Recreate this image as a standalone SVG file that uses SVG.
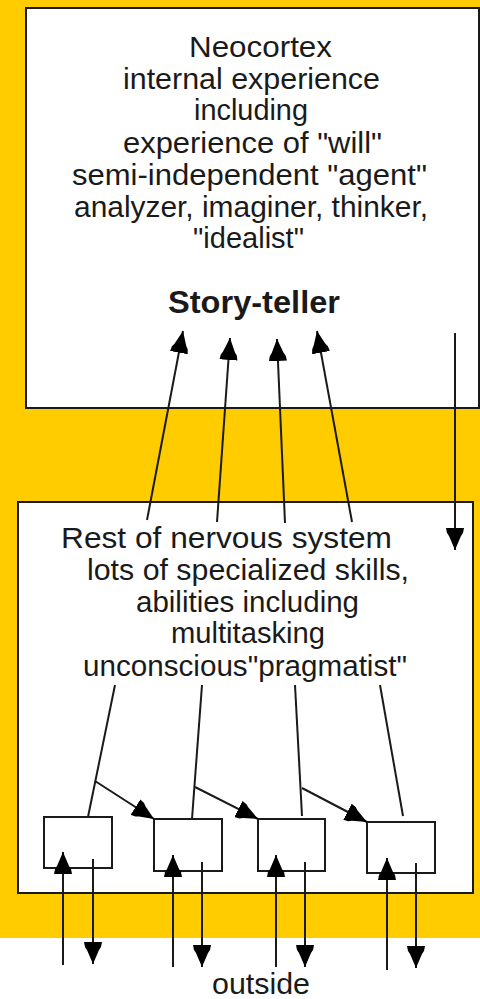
<svg xmlns="http://www.w3.org/2000/svg" width="480" height="999" viewBox="0 0 480 999">
<style>
.box{fill:#ffffff;stroke:#1a1a1a;stroke-width:2}
.sb{fill:#ffffff;stroke:#1a1a1a;stroke-width:2}
.t{font-family:"Liberation Sans",Arial,sans-serif;font-size:30px;fill:#1a1a1a}
.b{font-family:"Liberation Sans",Arial,sans-serif;font-size:31px;font-weight:bold;fill:#1a1a1a}
.ln{stroke:#1a1a1a;stroke-width:2;fill:none}
.ar{stroke:#1a1a1a;stroke-width:2;fill:none;marker-end:url(#ah)}
</style>
<defs>
<marker id="ah" markerUnits="userSpaceOnUse" markerWidth="26" markerHeight="22" viewBox="0 -11 26 22" refX="22" refY="0" orient="auto">
<path d="M0,-9 L5,-8 L8,-6 L22,0 L8,6 L5,8 L0,9 Z" fill="#000000"/>
</marker>
</defs>
<rect x="0" y="0" width="480" height="999" fill="#ffffff"/>
<rect x="0" y="0" width="480" height="938" fill="#ffcc00"/>
<g id="neocortex">
<rect class="box" x="26" y="8" width="453" height="400"/>
<text class="t" x="189" y="57" textLength="143" lengthAdjust="spacingAndGlyphs">Neocortex</text>
<text class="t" x="123" y="89" textLength="257" lengthAdjust="spacingAndGlyphs">internal experience</text>
<text class="t" x="194" y="120" textLength="114" lengthAdjust="spacingAndGlyphs">including</text>
<text class="t" x="123" y="153" textLength="259" lengthAdjust="spacingAndGlyphs">experience of "will"</text>
<text class="t" x="72" y="185" textLength="355" lengthAdjust="spacingAndGlyphs">semi-independent "agent"</text>
<text class="t" x="74" y="217" textLength="354" lengthAdjust="spacingAndGlyphs">analyzer, imaginer, thinker,</text>
<text class="t" x="193" y="248" textLength="111" lengthAdjust="spacingAndGlyphs">"idealist"</text>
<text class="b" x="168" y="313" textLength="172" lengthAdjust="spacingAndGlyphs">Story-teller</text>
</g>
<g id="rest">
<rect class="box" x="18" y="502" width="455" height="391"/>
<text class="t" x="61" y="548" textLength="331" lengthAdjust="spacingAndGlyphs">Rest of nervous system</text>
<text class="t" x="87" y="580" textLength="322" lengthAdjust="spacingAndGlyphs">lots of specialized skills,</text>
<text class="t" x="136" y="612" textLength="223" lengthAdjust="spacingAndGlyphs">abilities including</text>
<text class="t" x="171" y="643" textLength="154" lengthAdjust="spacingAndGlyphs">multitasking</text>
<text class="t" x="83" y="676" textLength="324" lengthAdjust="spacingAndGlyphs">unconscious"pragmatist"</text>
</g>
<g id="skill1"><rect class="sb" x="44" y="817" width="68" height="51"/></g>
<g id="skill2"><rect class="sb" x="154" y="819" width="68" height="52"/></g>
<g id="skill3"><rect class="sb" x="258" y="819" width="67" height="52"/></g>
<g id="skill4"><rect class="sb" x="367" y="822" width="68" height="51"/></g>
<g id="outside">
<text class="t" x="212" y="994" textLength="98" lengthAdjust="spacingAndGlyphs">outside</text>
</g>
<g id="connectors">
<line class="ar" x1="147" y1="520" x2="183" y2="331"/>
<line class="ar" x1="217" y1="522" x2="230" y2="338"/>
<line class="ar" x1="285" y1="523" x2="277" y2="339"/>
<line class="ar" x1="352" y1="522" x2="317" y2="331"/>
<line class="ar" x1="455" y1="333" x2="455" y2="550"/>
<line class="ln" x1="115" y1="685" x2="88" y2="817"/>
<line class="ar" x1="95" y1="781" x2="154" y2="819"/>
<line class="ln" x1="202" y1="685" x2="192" y2="819"/>
<line class="ar" x1="195" y1="787" x2="258" y2="819"/>
<line class="ln" x1="295" y1="685" x2="302" y2="816"/>
<line class="ar" x1="302" y1="788" x2="367" y2="822"/>
<line class="ln" x1="380" y1="685" x2="403" y2="816"/>
<line class="ar" x1="63" y1="965" x2="63" y2="852"/>
<line class="ar" x1="93" y1="859" x2="93" y2="964"/>
<line class="ar" x1="173" y1="967" x2="173" y2="855"/>
<line class="ar" x1="202" y1="862" x2="202" y2="967"/>
<line class="ar" x1="276" y1="967" x2="276" y2="855"/>
<line class="ar" x1="305" y1="862" x2="305" y2="967"/>
<line class="ar" x1="387" y1="970" x2="387" y2="858"/>
<line class="ar" x1="416" y1="863" x2="416" y2="968"/>
</g>
</svg>
